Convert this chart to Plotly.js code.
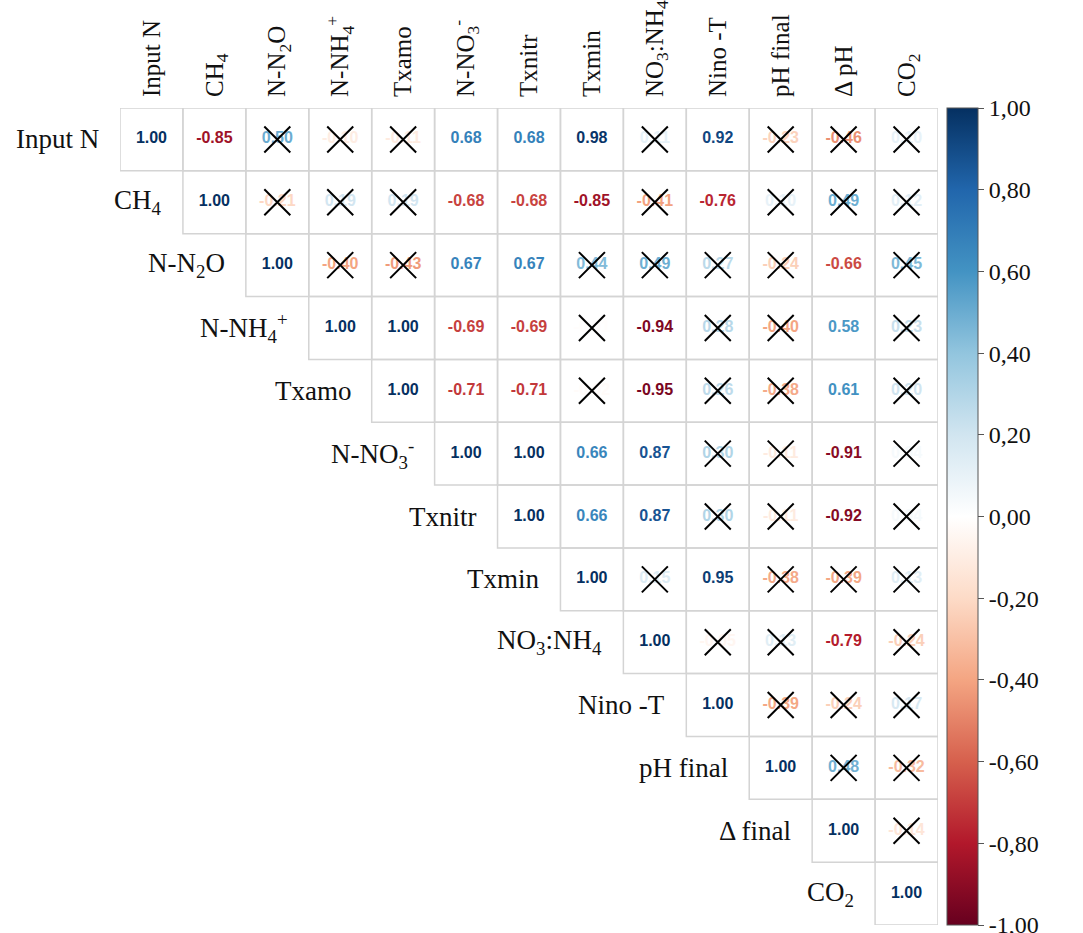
<!DOCTYPE html>
<html>
<head>
<meta charset="utf-8">
<script src="https://cdn.plot.ly/plotly-3.0.1.min.js"></script>
<style>
  html, body { margin: 0; padding: 0; background: #ffffff; }
  #chart { width: 1083px; height: 933px; }
</style>
</head>
<body>
<div id="chart"></div>
<script>
// Variable names shown along the top (columns) and beside the diagonal (rows)
const colLabels = ['Input N', 'CH<sub>4</sub>', 'N-N<sub>2</sub>O', 'N-NH<sub>4</sub><sup>+</sup>', 'Txamo',
  'N-NO<sub>3</sub><sup>-</sup>', 'Txnitr', 'Txmin', 'NO<sub>3</sub>:NH<sub>4</sub>', 'Nino -T',
  'pH final', '\u0394 pH', 'CO<sub>2</sub>'];
const rowLabels = ['Input N', 'CH<sub>4</sub>', 'N-N<sub>2</sub>O', 'N-NH<sub>4</sub><sup>+</sup>', 'Txamo',
  'N-NO<sub>3</sub><sup>-</sup>', 'Txnitr', 'Txmin', 'NO<sub>3</sub>:NH<sub>4</sub>', 'Nino -T',
  'pH final', '\u0394 final', 'CO<sub>2</sub>'];

// Upper-triangle correlation coefficients, each row starting at its diagonal
const rInputN  = [1.00, -0.85, 0.50, -0.10, -0.11, 0.68, 0.68, 0.98, 0.11, 0.92, -0.23, -0.46, 0.10];
const rCH4     = [1.00, -0.21, 0.19, 0.19, -0.68, -0.68, -0.85, -0.41, -0.76, 0.10, 0.49, 0.12];
const rN2O     = [1.00, -0.40, -0.43, 0.67, 0.67, 0.44, 0.49, 0.27, -0.24, -0.66, 0.45];
const rNH4     = [1.00, 1.00, -0.69, -0.69, -0.01, -0.94, 0.28, -0.40, 0.58, 0.23];
const rTxamo   = [1.00, -0.71, -0.71, -0.02, -0.95, 0.26, -0.38, 0.61, 0.20];
const rNO3     = [1.00, 1.00, 0.66, 0.87, 0.30, -0.11, -0.91, 0.04];
const rTxnitr  = [1.00, 0.66, 0.87, 0.30, -0.11, -0.92, 0.04];
const rTxmin   = [1.00, 0.15, 0.95, -0.38, -0.39, 0.13];
const rNO3NH4  = [1.00, -0.05, 0.13, -0.79, -0.24];
const rNinoT   = [1.00, -0.39, -0.24, 0.17];
const rPH      = [1.00, 0.48, -0.32];
const rDelta   = [1.00, -0.14];
const rCO2     = [1.00];
const corrRows = [rInputN, rCH4, rN2O, rNH4, rTxamo, rNO3, rTxnitr, rTxmin, rNO3NH4, rNinoT, rPH, rDelta, rCO2];

// Column indices of non-significant coefficients in each row (crossed out)
const nsInputN = [2, 3, 4, 8, 10, 11, 12];
const nsCH4    = [2, 3, 4, 8, 10, 11, 12];
const nsN2O    = [3, 4, 7, 8, 9, 10, 12];
const nsNH4    = [7, 9, 10, 12];
const nsTxamo  = [7, 9, 10, 12];
const nsNO3    = [9, 10, 12];
const nsTxnitr = [9, 10, 12];
const nsTxmin  = [8, 10, 11, 12];
const nsNO3NH4 = [9, 10, 12];
const nsNinoT  = [10, 11, 12];
const nsPH     = [11, 12];
const nsDelta  = [12];
const nsCO2    = [];
const nsRows = [nsInputN, nsCH4, nsN2O, nsNH4, nsTxamo, nsNO3, nsTxnitr, nsTxmin, nsNO3NH4, nsNinoT, nsPH, nsDelta, nsCO2];

// Colour bar tick labels (decimal comma)
const cbTickVals = [-1, -0.8, -0.6, -0.4, -0.2, 0, 0.2, 0.4, 0.6, 0.8, 1];
const cbTickText = ['-1,00', '-0,80', '-0,60', '-0,40', '-0,20', '0,00', '0,20', '0,40', '0,60', '0,80', '1,00'];

// Diverging red-white-blue palette
const rdbu = ['#67001F', '#B2182B', '#D6604D', '#F4A582', '#FDDBC7', '#FFFFFF',
              '#D1E5F0', '#92C5DE', '#4393C3', '#2166AC', '#053061'];
const colorscale = rdbu.map((c, i) => [i / (rdbu.length - 1), c]);

function hexToRgb(h) {
  return [parseInt(h.slice(1, 3), 16), parseInt(h.slice(3, 5), 16), parseInt(h.slice(5, 7), 16)];
}
function valueColor(v) {
  const t = (v + 1) / 2;
  for (let k = 0; k < colorscale.length - 1; k++) {
    const [t0, c0] = colorscale[k];
    const [t1, c1] = colorscale[k + 1];
    if (t >= t0 && t <= t1) {
      const f = (t - t0) / (t1 - t0);
      const a = hexToRgb(c0), b = hexToRgb(c1);
      const m = a.map((x, q) => Math.round(x + (b[q] - x) * f));
      return 'rgb(' + m.join(',') + ')';
    }
  }
  return colorscale[colorscale.length - 1][1];
}

const n = colLabels.length;
const tx = [], ty = [], tt = [], tc = [];
const xx = [], xy = [];
const zMat = [];
const shapes = [];
for (let i = 0; i < n; i++) {
  const zRow = new Array(n).fill(null);
  corrRows[i].forEach((v, k) => {
    const j = i + k;
    zRow[j] = v;
    tx.push(j); ty.push(i); tt.push(v.toFixed(2)); tc.push(valueColor(v));
    shapes.push({
      type: 'rect', xref: 'x', yref: 'y',
      x0: j - 0.5, x1: j + 0.5, y0: i - 0.5, y1: i + 0.5,
      line: { color: '#d4d4d4', width: 1.5 }, fillcolor: 'rgba(0,0,0,0)', layer: 'below'
    });
  });
  nsRows[i].forEach(j => { xx.push(j); xy.push(i); });
  zMat.push(zRow);
}

const annotations = rowLabels.map((lab, i) => ({
  x: i - 0.5, y: i, xref: 'x', yref: 'y',
  text: lab, showarrow: false, xanchor: 'right', yanchor: 'middle', xshift: -19,
  font: { family: 'Liberation Serif, Times New Roman, serif', size: 27, color: '#111' }
}));

const traces = [
  {
    // carries the colour scale; cells themselves stay white
    type: 'heatmap', x: [...Array(n).keys()], y: [...Array(n).keys()], z: zMat,
    zmin: -1, zmax: 1, colorscale: colorscale, opacity: 0, hoverinfo: 'skip',
    colorbar: {
      thickness: 31, len: 817, lenmode: 'pixels', x: 1.011, xanchor: 'left', xpad: 0, ypad: 0,
      y: 0.5, yanchor: 'middle', outlinecolor: '#555', outlinewidth: 1,
      tickmode: 'array', tickvals: cbTickVals, ticktext: cbTickText,
      ticks: 'outside', ticklen: 6, tickcolor: '#555', tickwidth: 1,
      ticklabeloverflow: 'allow',
      tickfont: { family: 'Liberation Serif, Times New Roman, serif', size: 24, color: '#111' }
    }
  },
  {
    type: 'scatter', mode: 'text', x: tx, y: ty, text: tt,
    textposition: 'middle center', hoverinfo: 'skip',
    textfont: { family: 'Liberation Sans, Arial, sans-serif', size: 16, color: tc, weight: 'bold' }
  },
  {
    type: 'scatter', mode: 'markers', x: xx, y: xy, hoverinfo: 'skip',
    marker: { symbol: 'x-thin-open', size: 26, color: '#000', line: { color: '#000', width: 2 } }
  }
];

const layout = {
  width: 1083, height: 933,
  margin: { l: 120, r: 145, t: 108, b: 8, autoexpand: false },
  paper_bgcolor: '#ffffff', plot_bgcolor: 'rgba(0,0,0,0)',
  showlegend: false,
  xaxis: {
    range: [-0.5, n - 0.5], side: 'top', showgrid: false, zeroline: false, showline: false,
    tickmode: 'array', tickvals: [...Array(n).keys()], ticktext: colLabels, tickangle: -90,
    ticks: '', ticklabelstandoff: 10,
    tickfont: { family: 'Liberation Serif, Times New Roman, serif', size: 25, color: '#111' }
  },
  yaxis: {
    range: [n - 0.5, -0.5], showgrid: false, zeroline: false, showline: false,
    showticklabels: false, ticks: ''
  },
  shapes: shapes,
  annotations: annotations
};

Plotly.newPlot('chart', traces, layout, { displayModeBar: false, staticPlot: true });
</script>
</body>
</html>
